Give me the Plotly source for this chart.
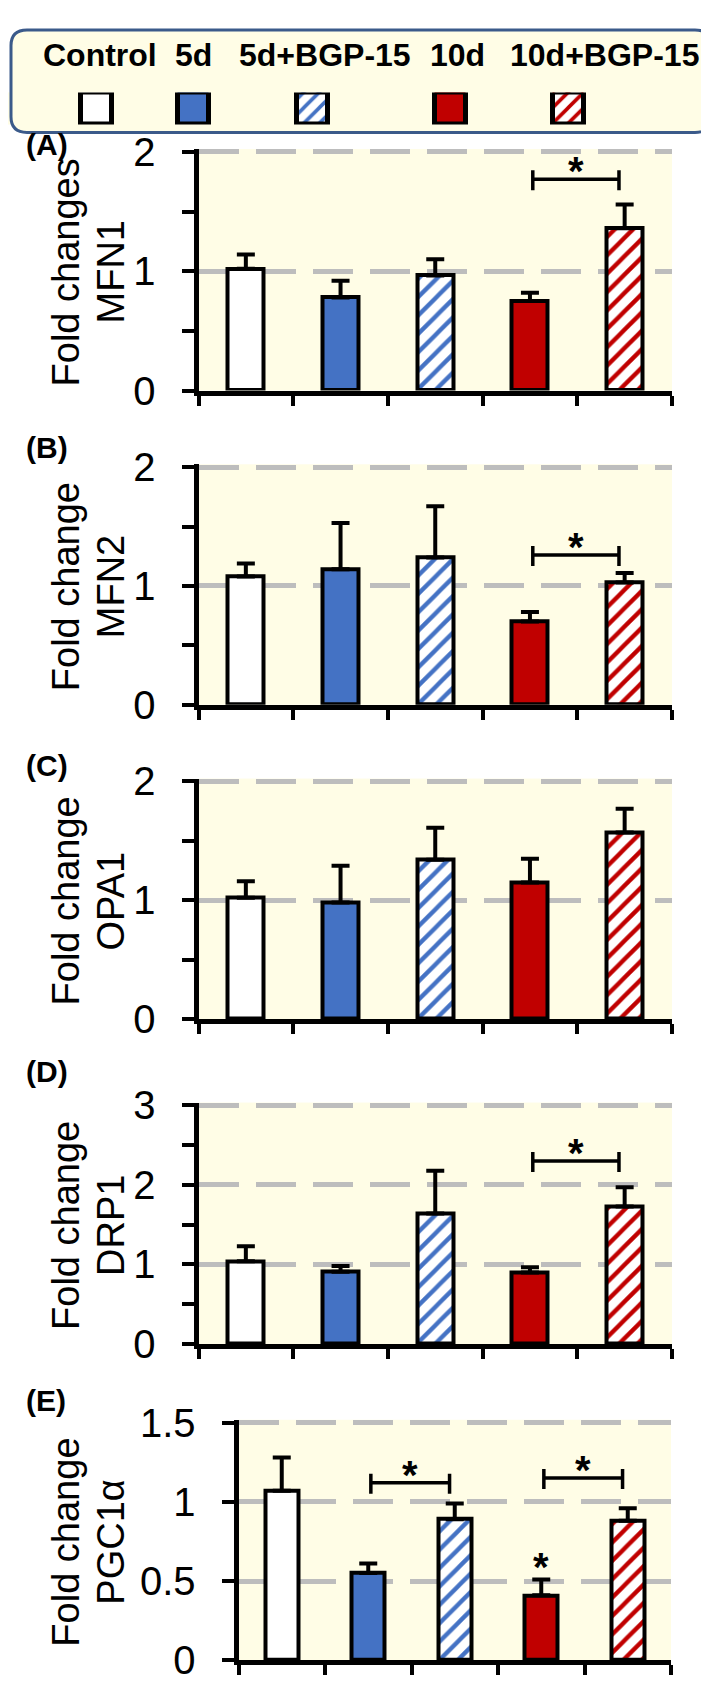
import plotly.graph_objects as go

# ---------------- data ----------------
categories = ["Control", "5d", "5d+BGP-15", "10d", "10d+BGP-15"]

mfn1 = [1.02, 0.78, 0.965, 0.75, 1.36]
mfn1_err = [0.12, 0.14, 0.135, 0.07, 0.20]

mfn2 = [1.08, 1.14, 1.24, 0.70, 1.03]
mfn2_err = [0.11, 0.39, 0.43, 0.08, 0.08]

opa1 = [1.02, 0.98, 1.34, 1.15, 1.57]
opa1_err = [0.14, 0.31, 0.27, 0.20, 0.20]

drp1 = [1.04, 0.91, 1.64, 0.90, 1.73]
drp1_err = [0.19, 0.07, 0.54, 0.065, 0.24]

pgc1a = [1.07, 0.55, 0.89, 0.41, 0.88]
pgc1a_err = [0.21, 0.06, 0.10, 0.10, 0.08]

# significance brackets: (from group index, to group index, height)
sig_a = [(3, 4, 1.77)]
sig_b = [(3, 4, 1.26)]
sig_c = []
sig_d = [(3, 4, 2.30)]
sig_e = [(1, 2, 1.12), (3, 4, 1.15)]
# single stars above a bar (group index)
star_e = [3]

# ---------------- style ----------------
W, H = 709, 1704
FONT = "Liberation Sans, Arial, sans-serif"
BLUE = "#4472C4"
RED = "#C00000"
CREAM = "#FFFDE6"
GRID = "#BDBDBD"

fill_colors = ["white", BLUE, "white", RED, "white"]
pat_shapes = ["", "", "/", "", "/"]
pat_fg = ["white", BLUE, BLUE, RED, RED]


def px_x(p):
    return p / W


def px_y(p):
    return 1 - p / H


def marker_for(k, lw, psize):
    m = dict(color=fill_colors[k], line=dict(color="black", width=lw))
    if pat_shapes[k]:
        m["pattern"] = dict(shape=pat_shapes[k], fgcolor=pat_fg[k], bgcolor="white",
                            fillmode="replace", size=psize, solidity=0.33)
    return m


panels = [
    dict(vals=mfn1, errs=mfn1_err, ymax=2, dtick=1, minor=0.5, top=128, bot=375,
         left=188, right=664, t1="Fold changes", t2="MFN1", lab="(A)", laby=120,
         sig=sig_a, stars=[]),
    dict(vals=mfn2, errs=mfn2_err, ymax=2, dtick=1, minor=0.5, top=451, bot=697,
         left=188, right=664, t1="Fold change", t2="MFN2", lab="(B)", laby=431,
         sig=sig_b, stars=[]),
    dict(vals=opa1, errs=opa1_err, ymax=2, dtick=1, minor=0.5, top=773, bot=1019,
         left=188, right=664, t1="Fold change", t2="OPA1", lab="(C)", laby=757,
         sig=sig_c, stars=[]),
    dict(vals=drp1, errs=drp1_err, ymax=3, dtick=1, minor=0.5, top=1105, bot=1352,
         left=188, right=664, t1="Fold change", t2="DRP1", lab="(D)", laby=1070,
         sig=sig_d, stars=[]),
    dict(vals=pgc1a, errs=pgc1a_err, ymax=1.5, dtick=0.5, minor=None, top=1430, bot=1676,
         left=228, right=663, t1="Fold change", t2="PGC1α", lab="(E)", laby=1407,
         sig=sig_e, stars=star_e),
]

fig = go.Figure()
shapes = []
annotations = []
layout_axes = {}
EXTRA = 0.012  # small headroom so the top gridline is drawn

for i, p in enumerate(panels, start=1):
    xa = "x" if i == 1 else f"x{i}"
    ya = "y" if i == 1 else f"y{i}"
    for k, cat in enumerate(categories):
        fig.add_trace(go.Bar(
            x=[k], y=[p["vals"][k]], width=0.38, name=cat,
            xaxis=xa, yaxis=ya, showlegend=False,
            marker=marker_for(k, 4, 13),
            error_y=dict(type="data", array=[p["errs"][k]], arrayminus=[0],
                         symmetric=False, color="black", thickness=4, width=9),
        ))
    bot_px = p["bot"] - 2.5
    top_px = p["top"] - EXTRA * (bot_px - p["top"])
    dom_x = [px_x(p["left"] + 2.5), px_x(p["right"])]
    dom_y = [px_y(bot_px), px_y(top_px)]
    xkey = "xaxis" if i == 1 else f"xaxis{i}"
    ykey = "yaxis" if i == 1 else f"yaxis{i}"
    layout_axes[xkey] = dict(
        domain=dom_x, anchor=ya, range=[-0.5, len(categories) - 0.5],
        showline=True, linecolor="black", linewidth=5,
        tickvals=[k - 0.5 for k in range(len(categories) + 1)],
        ticks="outside", ticklen=10, tickwidth=4, tickcolor="black",
        showticklabels=False, showgrid=False, zeroline=False, fixedrange=True)
    yax = dict(
        domain=dom_y, anchor=xa, range=[0, p["ymax"] * (1 + EXTRA)],
        showline=True, linecolor="black", linewidth=5,
        tick0=0, dtick=p["dtick"], ticks="outside", ticklen=12, tickwidth=4,
        tickcolor="black", ticklabelstandoff=18,
        tickfont=dict(family=FONT, size=40, color="black"),
        showgrid=True, gridcolor=GRID, gridwidth=5, griddash="40px,17px",
        zeroline=False, fixedrange=True)
    if p["minor"]:
        yax["minor"] = dict(dtick=p["minor"], tick0=0, ticks="outside", ticklen=12,
                            tickwidth=4, tickcolor="black", showgrid=False)
    layout_axes[ykey] = yax

    # y titles
    cy = px_y((p["top"] + p["bot"]) / 2)
    for txt, xx in ((p["t1"], 58), (p["t2"], 103)):
        annotations.append(dict(text=txt, x=px_x(xx), y=cy, xref="paper", yref="paper",
                                textangle=-90, showarrow=False, xanchor="center",
                                yanchor="middle",
                                font=dict(family=FONT, size=38, color="black")))
    # panel label
    annotations.append(dict(text=f"<b>{p['lab']}</b>", x=px_x(16), y=px_y(p["laby"]),
                            xref="paper", yref="paper", showarrow=False,
                            xanchor="left", yanchor="middle",
                            font=dict(family=FONT, size=30, color="black")))
    # significance brackets
    for a, b, h in p["sig"]:
        xa0, xa1 = a + 0.03, b - 0.06
        shapes.append(dict(type="line", xref=xa, yref=ya, x0=xa0, x1=xa1, y0=h, y1=h,
                           line=dict(color="black", width=3.5)))
        for xe in (xa0, xa1):
            shapes.append(dict(type="line", xref=xa, yref=ya, x0=xe, x1=xe,
                               ysizemode="pixel", yanchor=h, y0=-11, y1=9,
                               line=dict(color="black", width=3.5)))
        annotations.append(dict(text="<b>*</b>", x=(xa0 + xa1) / 2, y=h, xref=xa, yref=ya,
                                showarrow=False, xanchor="center", yanchor="bottom",
                                yshift=-16,
                                font=dict(family=FONT, size=40, color="black")))
    for k in p["stars"]:
        annotations.append(dict(text="<b>*</b>", x=k, y=p["vals"][k] + p["errs"][k],
                                xref=xa, yref=ya, showarrow=False, xanchor="center",
                                yanchor="bottom", yshift=-12,
                                font=dict(family=FONT, size=40, color="black")))

# ---------------- legend box ----------------
x0, x1, y0, y1, r = 3, 703, 3, 108, 16
pts = [
    ("M", x0 + r, y0), ("L", x1 - r, y0), ("Q", x1, y0, x1, y0 + r),
    ("L", x1, y1 - r), ("Q", x1, y1, x1 - r, y1), ("L", x0 + r, y1),
    ("Q", x0, y1, x0, y1 - r), ("L", x0, y0 + r), ("Q", x0, y0, x0 + r, y0),
]
path = ""
for seg in pts:
    cmd, coords = seg[0], seg[1:]
    cs = []
    for j in range(0, len(coords), 2):
        cs.append(f"{px_x(coords[j]):.5f},{px_y(coords[j + 1]):.5f}")
    path += cmd + " " + " ".join(cs) + " "
path += "Z"
shapes.append(dict(type="path", path=path, xref="paper", yref="paper", layer="below",
                   fillcolor=CREAM, line=dict(color="#3B5A8A", width=3)))

legend_text_x = [92, 185, 317, 449, 596]
legend_box_x = [88, 185, 304, 442, 560]
for name, xx in zip(categories, legend_text_x):
    annotations.append(dict(text=f"<b>{name}</b>", x=px_x(xx), y=px_y(29),
                            xref="paper", yref="paper", showarrow=False,
                            xanchor="center", yanchor="middle",
                            font=dict(family=FONT, size=32, color="black")))

for k, cat in enumerate(categories):
    fig.add_trace(go.Bar(
        x=[legend_box_x[k]], y=[1], width=31, xaxis="x6", yaxis="y6", name=cat,
        showlegend=False, marker=marker_for(k, 5, 11),
    ))
layout_axes["xaxis6"] = dict(domain=[0, 1], range=[0, W], visible=False, anchor="y6",
                             fixedrange=True)
layout_axes["yaxis6"] = dict(domain=[px_y(100), px_y(67)], range=[0, 1], visible=False,
                             anchor="x6", fixedrange=True)

fig.update_layout(
    width=W, height=H, autosize=False,
    margin=dict(l=0, r=0, t=0, b=0),
    paper_bgcolor="white", plot_bgcolor=CREAM,
    bargap=0, barmode="overlay",
    shapes=shapes, annotations=annotations,
    font=dict(family=FONT, color="black"),
    **layout_axes,
)

fig.write_html("out.html")
